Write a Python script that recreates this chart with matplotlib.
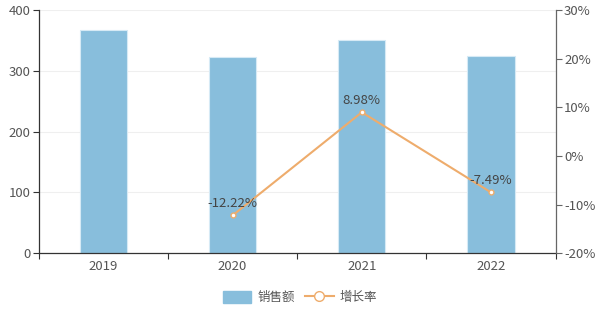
import numpy as np
import matplotlib
matplotlib.use("Agg")
import matplotlib.pyplot as plt
import matplotlib.ticker as mticker
from matplotlib.lines import Line2D
from matplotlib.patches import Patch

plt.rcParams["font.family"] = ["Noto Sans CJK SC", "DejaVu Sans"]

# ---------------------------------------------------------------------------
# Data
# ---------------------------------------------------------------------------
years = ["2019", "2020", "2021", "2022"]
sales = [367, 322, 351, 325]
growth_years = ["2020", "2021", "2022"]
growth = [-12.22, 8.98, -7.49]

BAR_COLOR = "#88bedc"
LINE_COLOR = "#eeac6c"
AXIS_COLOR = "#333333"
TEXT_COLOR = "#555555"
FS = 9.5

fig = plt.figure(figsize=(6.0, 3.1), dpi=100)
ax = fig.add_axes([38.7 / 600, 1 - 253.3 / 310, (555.7 - 38.7) / 600, (253.3 - 10) / 310])

x = np.arange(len(years))
ax.bar(x, sales, width=0.365, color=BAR_COLOR, edgecolor="#d6eaf5",
       linewidth=0.8, zorder=2)

ax.set_xlim(-0.5, len(years) - 0.5)
ax.set_ylim(0, 400)
ax.set_yticks([0, 100, 200, 300, 400])
ax.grid(axis="y", color="#efefef", linewidth=0.8, zorder=0)

ax.set_xticks(x)
ax.set_xticklabels(years)
ax.set_xticks(np.arange(len(years) + 1) - 0.5, minor=True)
ax.tick_params(axis="x", which="major", length=0, pad=5, labelsize=FS,
               labelcolor=TEXT_COLOR)
ax.tick_params(axis="x", which="minor", length=4, color=AXIS_COLOR, width=0.8)
ax.tick_params(axis="y", length=4, color=AXIS_COLOR, width=0.8, pad=2,
               labelsize=FS, labelcolor=TEXT_COLOR)

for side in ("top", "right"):
    ax.spines[side].set_visible(False)
for side in ("left", "bottom"):
    ax.spines[side].set_color(AXIS_COLOR)
    ax.spines[side].set_linewidth(0.9)

# Growth rate on right axis
ax2 = ax.twinx()
gx = [years.index(y) for y in growth_years]
ax2.plot(gx, growth, color=LINE_COLOR, linewidth=1.5, marker="o",
         markersize=3.5, markerfacecolor="white", markeredgecolor=LINE_COLOR,
         markeredgewidth=1.0, zorder=3)
for xi, g in zip(gx, growth):
    ax2.annotate(f"{g:.2f}%", (xi, g), xytext=(0, 4), textcoords="offset points",
                 ha="center", va="bottom", fontsize=FS, color="#444444")
ax2.set_ylim(-20, 30)
ax2.set_yticks([-20, -10, 0, 10, 20, 30])
ax2.yaxis.set_major_formatter(mticker.FuncFormatter(lambda v, _: f"{v:.0f}%"))
ax2.tick_params(axis="y", length=4, color="#666666", width=0.8, pad=2,
                labelsize=FS, labelcolor=TEXT_COLOR)
for side in ("top", "left", "bottom"):
    ax2.spines[side].set_visible(False)
ax2.spines["right"].set_color("#666666")
ax2.spines["right"].set_linewidth(0.9)

# Legend
handles = [
    Patch(facecolor=BAR_COLOR, edgecolor=BAR_COLOR, label="销售额"),
    Line2D([0], [0], color=LINE_COLOR, linewidth=1.5, marker="o",
           markersize=7, markerfacecolor="white",
           markeredgecolor=LINE_COLOR, label="增长率"),
]
fig.legend(handles=handles, loc="center", bbox_to_anchor=(0.5, 1 - 297.5 / 310),
           ncol=2, frameon=False, fontsize=9, labelcolor=TEXT_COLOR,
           handlelength=2.3, handleheight=1.1, handletextpad=0.5,
           columnspacing=0.8)

fig.savefig("out.png", dpi=100)
